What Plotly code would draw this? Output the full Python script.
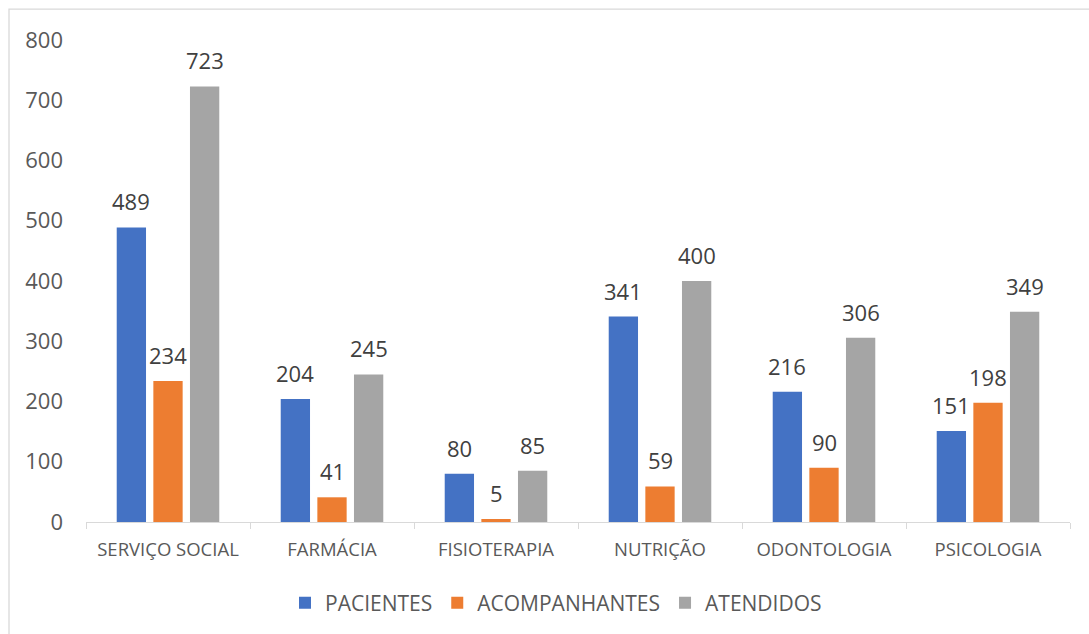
import plotly.graph_objects as go

# Atendimentos por setor
categorias = ["SERVIÇO SOCIAL", "FARMÁCIA", "FISIOTERAPIA", "NUTRIÇÃO", "ODONTOLOGIA", "PSICOLOGIA"]
pacientes = [489, 204, 80, 341, 216, 151]
acompanhantes = [234, 41, 5, 59, 90, 198]
atendidos = [723, 245, 85, 400, 306, 349]

series = [
    ("PACIENTES", pacientes, "#4472C4"),
    ("ACOMPANHANTES", acompanhantes, "#ED7D31"),
    ("ATENDIDOS", atendidos, "#A5A5A5"),
]

W, H = 1089, 634
ML, MR, MT, MB = 86, 19, 40, 111
BARGAP = 0.33
BARGROUPGAP = 0.2
FONT = "Open Sans"

fig = go.Figure()
for nome, valores, cor in series:
    fig.add_trace(go.Bar(
        name=nome, x=categorias, y=valores,
        marker=dict(color=cor, line=dict(width=0)),
    ))

# value labels above each bar, centred on the bar's slot within its group
slot = (1 - BARGAP) / len(series)
annotations = []
for i, (nome, valores, cor) in enumerate(series):
    desloc = (i - (len(series) - 1) / 2) * slot
    for j, v in enumerate(valores):
        annotations.append(dict(
            x=j + desloc, y=v, xref="x", yref="y",
            text=str(v), showarrow=False,
            yanchor="bottom", yshift=9,
            font=dict(family=FONT, size=22, color="#404040"),
        ))

# chart-area frame (left and top edges visible)
pw = W - ML - MR
ph = H - MT - MB
px = lambda p: (p - ML) / pw
py = lambda p: (H - MB - p) / ph
shapes = [dict(
    type="rect", xref="paper", yref="paper",
    x0=px(9), x1=px(W + 10), y0=py(H + 10), y1=py(9),
    line=dict(color="#D9D9D9", width=1.3), fillcolor="rgba(0,0,0,0)", layer="below",
)]

fig.update_layout(
    width=W, height=H,
    margin=dict(l=ML, r=MR, t=MT, b=MB),
    paper_bgcolor="white", plot_bgcolor="white",
    barmode="group", bargap=BARGAP, bargroupgap=BARGROUPGAP,
    font=dict(family=FONT, color="#595959"),
    showlegend=True,
    legend=dict(
        orientation="h", x=px(556), xanchor="center", y=py(603), yanchor="middle",
        font=dict(family=FONT, size=21, color="#595959"),
        itemwidth=30, traceorder="normal",
    ),
    annotations=annotations,
    shapes=shapes,
)
fig.update_xaxes(
    showline=True, linecolor="#D9D9D9", linewidth=1.3,
    ticks="outside", tickson="boundaries", ticklen=6, tickcolor="#D9D9D9", tickwidth=1.3,
    tickfont=dict(family=FONT, size=18.5, color="#595959"),
    ticklabelstandoff=11,
    showgrid=False,
)
fig.update_yaxes(
    range=[0, 800], dtick=100, showgrid=False, zeroline=False, showline=False,
    ticks="", tickfont=dict(family=FONT, size=22, color="#595959"),
    ticklabelstandoff=22,
)

fig.write_html("out.html")
